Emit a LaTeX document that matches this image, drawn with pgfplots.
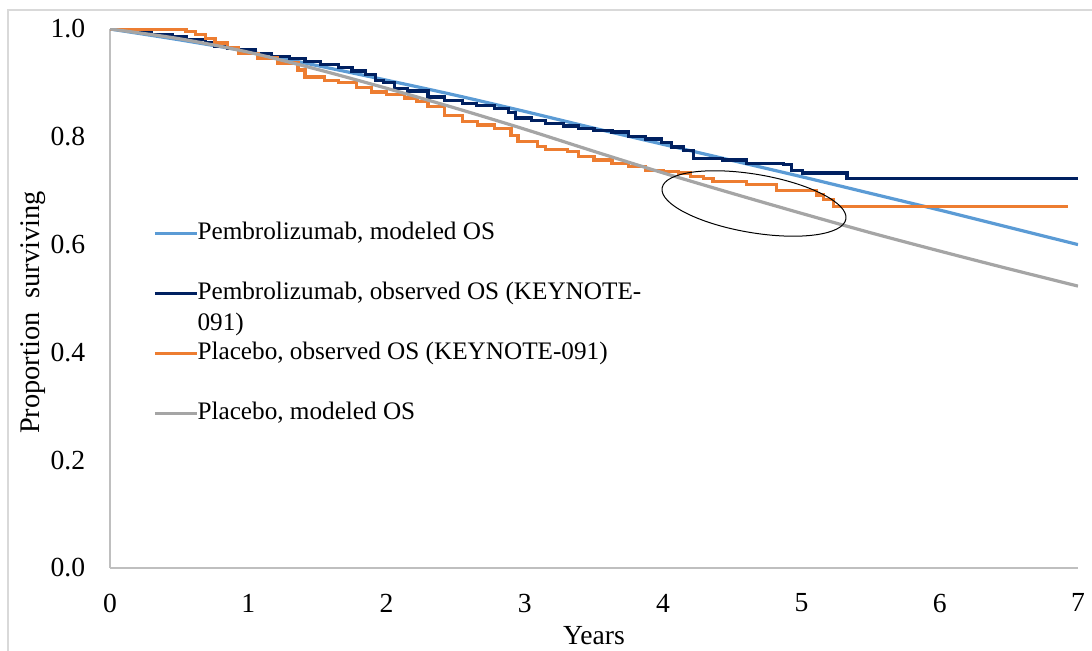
\documentclass[border=0pt]{standalone}
\usepackage{fontspec}
\setmainfont{Liberation Serif}
\usepackage{pgfplots}
\pgfplotsset{compat=1.18}

\definecolor{pembmod}{HTML}{5B9BD5}
\definecolor{pembobs}{HTML}{002060}
\definecolor{plaobs}{HTML}{ED7D31}
\definecolor{plamod}{HTML}{A5A5A5}
\definecolor{axisgray}{HTML}{BFBFBF}
\definecolor{framegray}{HTML}{D9D9D9}

\begin{document}
\begin{tikzpicture}
% page = 1092 x 651 px at 0.5pt per px
\useasboundingbox (0,0) rectangle (546pt,325.5pt);
\draw[framegray, line width=1pt] (4pt,-2pt) -- (4pt,320.5pt) -- (548pt,320.5pt);

\begin{axis}[
  at={(55pt,41.5pt)}, anchor=south west,
  scale only axis, width=484pt, height=269.5pt,
  xmin=0, xmax=7, ymin=0, ymax=1,
  axis x line*=bottom, axis y line*=left,
  axis line style={draw=axisgray, line width=1pt},
  major tick length=0pt,
  xtick={0,1,2,3,4,5,6,7},
  ytick={0,0.2,0.4,0.6,0.8,1},
  /pgf/number format/assume math mode=true,
  tick label style={font=\fontsize{13.8}{16}\selectfont},
  yticklabel style={/pgf/number format/fixed, /pgf/number format/fixed zerofill,
    /pgf/number format/precision=1, xshift=-8.9pt},
  xticklabel style={yshift=-9.4pt},
  xlabel={Years}, ylabel={Proportion\ \ surviving},
  every axis x label/.style={at={(axis description cs:0.5,-0.126)}, anchor=center,
    font=\fontsize{13.8}{16}\selectfont},
  every axis y label/.style={at={(axis description cs:-0.0795,0.474)}, anchor=center,
    rotate=90, font=\fontsize{14.2}{16}\selectfont},
  legend style={at={(rel axis cs:0.0444,0.6494)}, anchor=north west,
    draw=none, fill=none, inner sep=0pt, row sep={30pt,between origins},
    font=\fontsize{12.6}{15.1}\selectfont,
    cells={anchor=base west, inner sep=0pt},
    /tikz/every odd column/.append style={column sep=-2.5pt}},
  legend image code/.code={\draw[#1] (0pt,3pt) -- (21pt,3pt);},
]

% Pembrolizumab, modeled OS
\addplot[pembmod, line width=1.6pt, smooth] coordinates {
(0,1.000)(0.5,0.980)(1,0.958)(1.5,0.932)(2,0.905)(2.5,0.877)(3,0.847)
(3.5,0.816)(4,0.786)(4.5,0.756)(5,0.726)(5.5,0.695)(6,0.664)(6.5,0.632)(7,0.600)
};
\addlegendentry{Pembrolizumab, modeled OS}

% Pembrolizumab, observed OS (KEYNOTE-091)
\addplot[pembobs, line width=1.6pt, const plot] coordinates {
(0,1.000)(0.1,0.997)(0.2,0.995)(0.3,0.990)(0.45,0.986)(0.55,0.980)(0.69,0.974)
(0.76,0.968)(0.85,0.964)(0.93,0.961)(1.05,0.955)(1.17,0.949)(1.3,0.945)(1.41,0.940)
(1.52,0.934)(1.65,0.928)(1.75,0.922)(1.85,0.915)(1.92,0.905)(1.98,0.900)(2.06,0.890)
(2.15,0.885)(2.30,0.874)(2.42,0.868)(2.55,0.862)(2.65,0.858)(2.78,0.853)(2.88,0.845)
(2.93,0.835)(3.05,0.830)(3.15,0.825)(3.28,0.820)(3.39,0.816)(3.5,0.812)(3.63,0.809)
(3.75,0.800)(3.87,0.796)(3.99,0.790)(4.06,0.781)(4.15,0.775)(4.22,0.760)(4.43,0.757)
(4.60,0.751)(4.87,0.748)(4.93,0.738)(5.01,0.733)(5.33,0.722)(7.0,0.722)
};
\addlegendentry{\begin{tabular}[t]{@{}l@{}}Pembrolizumab, observed OS (KEYNOTE-\\091)\end{tabular}}

% Placebo, observed OS (KEYNOTE-091)
\addplot[plaobs, line width=1.6pt, const plot] coordinates {
(0,1.000)(0.55,0.995)(0.62,0.990)(0.69,0.983)(0.76,0.974)(0.85,0.965)(0.93,0.955)
(1.07,0.946)(1.21,0.937)(1.36,0.924)(1.41,0.911)(1.55,0.905)(1.65,0.900)(1.78,0.892)
(1.89,0.883)(2.0,0.878)(2.13,0.872)(2.22,0.865)(2.30,0.856)(2.42,0.840)(2.55,0.828)
(2.66,0.822)(2.78,0.816)(2.90,0.803)(2.95,0.791)(3.09,0.782)(3.15,0.776)(3.31,0.772)
(3.39,0.763)(3.5,0.757)(3.63,0.751)(3.75,0.745)(3.87,0.738)(4.0,0.735)(4.11,0.733)
(4.2,0.726)(4.29,0.723)(4.36,0.717)(4.60,0.711)(4.82,0.701)(5.11,0.692)(5.16,0.683)
(5.23,0.670)(6.93,0.670)
};
\addlegendentry{Placebo, observed OS (KEYNOTE-091)}

% Placebo, modeled OS
\addplot[plamod, line width=1.6pt, smooth] coordinates {
(0,1.000)(0.5,0.982)(1,0.957)(1.5,0.925)(2,0.890)(2.5,0.853)(3,0.814)
(3.5,0.773)(4,0.733)(4.5,0.695)(5,0.658)(5.5,0.622)(6,0.588)(6.5,0.555)(7,0.523)
};
\addlegendentry{Placebo, modeled OS}
\end{axis}

% hand-drawn annotation ellipse
\draw[black, line width=0.5pt, rotate around={-9.6:(377pt,223.75pt)}]
  (377pt,223.75pt) ellipse [x radius=46.6pt, y radius=14.6pt];
\end{tikzpicture}
\end{document}
